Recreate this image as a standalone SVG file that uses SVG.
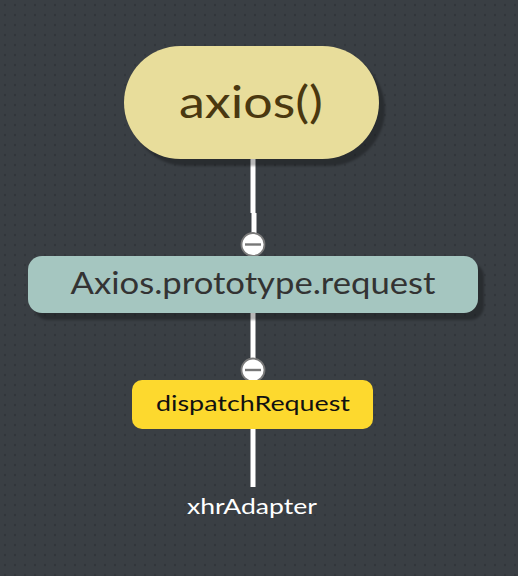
<svg xmlns="http://www.w3.org/2000/svg" width="518" height="576" viewBox="0 0 518 576">
<defs>
<pattern id="dots" x="0" y="0" width="10" height="10" patternUnits="userSpaceOnUse">
<rect width="10" height="10" fill="#3a3f44"/>
<circle cx="5" cy="5" r="1.2" fill="#32363a"/>
</pattern>
<filter id="blur" x="-10%" y="-20%" width="120%" height="140%"><feGaussianBlur stdDeviation="1"/></filter>
</defs>
<style>
.wire{stroke:#ffffff;stroke-width:5;fill:none}
.shadow{fill:#000;opacity:0.28;filter:url(#blur)}
.toggle circle{fill:#ffffff;stroke:#7a7a7a;stroke-width:1.8}
.toggle line{stroke:#777;stroke-width:2.4}
.lbl{font-family:"Century Gothic","URW Gothic","Lato","Liberation Sans",sans-serif;text-anchor:middle}
</style>
<rect width="518" height="576" fill="url(#dots)"/>
<g id="connectors">
<path class="wire" d="M253 158 V213 M254 213 V234"/>
<path class="wire" d="M253 312 V360"/>
<path class="wire" d="M253 428 V487"/>
</g>
<g id="node-axios">
<rect class="shadow" x="130" y="53" width="255" height="113" rx="56.5"/>
<rect x="124" y="46" width="255" height="113" rx="56.5" fill="#e8dd9b"/>
<text class="lbl" x="251" y="118" font-size="44" fill="#4a3810" textLength="144" lengthAdjust="spacingAndGlyphs">axios()</text>
</g>
<g id="toggle-1" class="toggle">
<circle cx="253" cy="244.5" r="11.5"/>
<line x1="245" y1="244.5" x2="261" y2="244.5"/>
</g>
<g id="node-request">
<rect class="shadow" x="34" y="263" width="450" height="57" rx="14"/>
<rect x="28" y="256" width="450" height="57" rx="14" fill="#a5c6c0"/>
<text class="lbl" x="253" y="294" font-size="31" fill="#333333" textLength="365" lengthAdjust="spacingAndGlyphs">Axios.prototype.request</text>
</g>
<g id="toggle-2" class="toggle">
<circle cx="253" cy="370" r="11.5"/>
<line x1="245" y1="370" x2="261" y2="370"/>
</g>
<g id="node-dispatch">
<rect x="132" y="380" width="241" height="49" rx="10" fill="#fdd92e"/>
<text class="lbl" x="253" y="411" font-size="21" fill="#111111" textLength="194" lengthAdjust="spacingAndGlyphs">dispatchRequest</text>
</g>
<g id="node-xhr">
<text class="lbl" x="252" y="514" font-size="21" fill="#ffffff" textLength="130" lengthAdjust="spacingAndGlyphs">xhrAdapter</text>
</g>
</svg>
